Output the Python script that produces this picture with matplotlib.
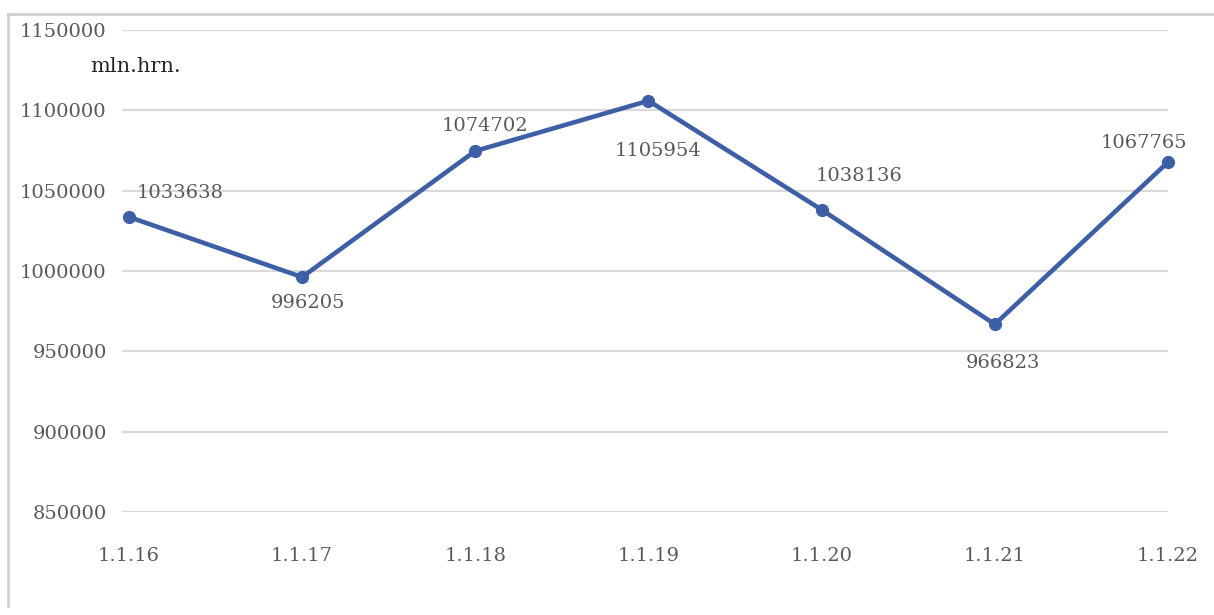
import matplotlib.pyplot as plt
from matplotlib.lines import Line2D

# yearly values, mln. hrn.
dates = ['1.1.16', '1.1.17', '1.1.18', '1.1.19', '1.1.20', '1.1.21', '1.1.22']
values = [1033638, 996205, 1074702, 1105954, 1038136, 966823, 1067765]
y_ticks = [850000, 900000, 950000, 1000000, 1050000, 1100000, 1150000]

# label offsets in points (dx, dy) around each marker
label_offsets = [(37, 17), (4, -19), (7, 18), (7, -36), (27, 24), (6, -28), (-17, 14)]

line_color = '#3D5FA5'
text_color = '#595959'
font = 'DejaVu Serif'
fsize = 14

fig = plt.figure(figsize=(12.14, 6.15), dpi=100)
ax = fig.add_axes([122 / 1214, 0.1675, 1046 / 1214, 0.7837])

x = list(range(len(dates)))
ax.plot(x, values, color=line_color, linewidth=3.3, marker='o', markersize=8.5,
        clip_on=False, zorder=3)

for xi, v, (dx, dy) in zip(x, values, label_offsets):
    ax.annotate(str(v), (xi, v), xytext=(dx, dy), textcoords='offset points',
                ha='center', va='center', fontsize=fsize, color=text_color,
                family=font)

ax.set_xlim(-0.04, 6.0)
ax.set_ylim(850000, 1150000)
ax.set_yticks(y_ticks)
ax.set_yticklabels([str(t) for t in y_ticks])
ax.set_xticks(x)
ax.set_xticklabels(dates)

ax.grid(axis='y', color='#D9D9D9', linewidth=1.6)
ax.set_axisbelow(True)
for s in ax.spines.values():
    s.set_visible(False)
ax.tick_params(axis='both', length=0, labelsize=fsize, labelcolor=text_color)
ax.tick_params(axis='y', pad=11)
ax.tick_params(axis='x', pad=25)
for lbl in ax.get_xticklabels() + ax.get_yticklabels():
    lbl.set_family(font)

# unit caption
fig.text(90 / 1214, 1 - 66 / 615, 'mln.hrn.', fontsize=15, color='#222222',
         family=font, ha='left', va='center')

# light frame on the top and left edges
fig.add_artist(Line2D([8 / 1214, 1], [1 - 14 / 615, 1 - 14 / 615],
                      color='#D0D0D0', linewidth=2))
fig.add_artist(Line2D([8 / 1214, 8 / 1214], [0.015, 1 - 14 / 615],
                      color='#D0D0D0', linewidth=2))

fig.savefig('out.png', dpi=100)
